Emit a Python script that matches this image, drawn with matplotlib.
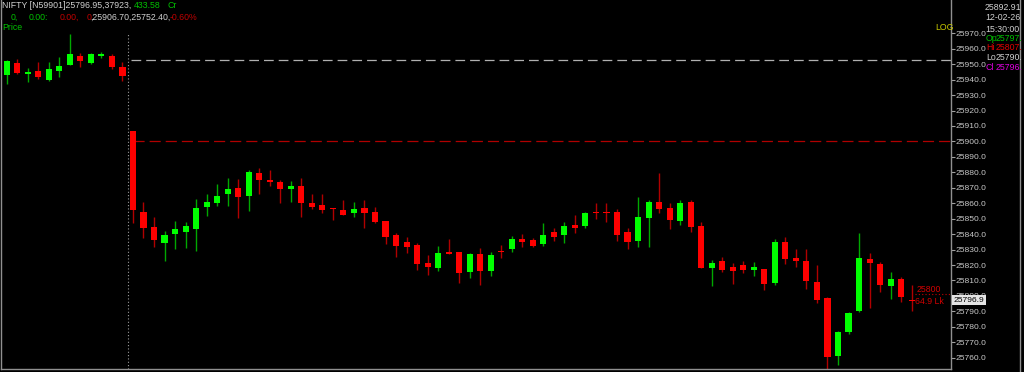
import matplotlib
matplotlib.use("Agg")
import matplotlib.pyplot as plt
import numpy as np

plt.rcParams['font.family'] = ['Liberation Sans', 'DejaVu Sans']
plt.rcParams['lines.scale_dashes'] = False

# ---- data: previous session (last 12 candles) + today's 75 five-minute candles ----
opens = [25943.0, 25951.0, 25943.7, 25945.8, 25939.8, 25945.8, 25949.5, 25955.3, 25951.0, 25955.1, 25955.3, 25948.0,
         25906.7, 25854.1, 25844.8, 25834.5, 25839.9, 25841.6, 25843.3, 25857.4, 25860.4, 25866.0, 25869.7, 25864.7,
         25879.4, 25875.1, 25874.0, 25869.2, 25871.2, 25860.0, 25858.9, 25857.1, 25855.6, 25853.5, 25857.1, 25854.5,
         25848.5, 25839.4, 25834.7, 25833.0, 25821.1, 25818.3, 25828.6, 25828.6, 25815.3, 25826.9, 25816.1, 25829.3,
         25830.2, 25836.7, 25836.2, 25833.6, 25841.6, 25839.4, 25845.9, 25845.5, 25854.1, 25854.5, 25854.1, 25841.6,
         25835.8, 25850.2, 25861.0, 25857.1, 25848.7, 25860.6, 25845.3, 25818.3, 25822.6, 25818.5, 25820.0, 25816.8,
         25817.3, 25808.6, 25834.7, 25824.4, 25822.6, 25809.2, 25798.5, 25761.1, 25776.9, 25790.3, 25823.9, 25820.5,
         25806.6, 25810.7, 25797.3]
highs = [25952.5, 25953.4, 25947.7, 25951.6, 25951.2, 25954.9, 25969.5, 25957.4, 25957.4, 25958.1, 25956.4, 25951.6,
         25906.7, 25861.0, 25850.9, 25842.0, 25848.5, 25847.7, 25862.8, 25866.0, 25872.5, 25876.1, 25875.5, 25881.5,
         25882.6, 25881.5, 25875.1, 25874.4, 25876.1, 25866.0, 25866.0, 25857.1, 25862.1, 25861.0, 25862.1, 25857.8,
         25848.5, 25840.9, 25838.0, 25834.1, 25826.5, 25832.3, 25836.7, 25828.6, 25828.0, 25830.8, 25828.6, 25833.0,
         25838.8, 25840.1, 25837.3, 25847.0, 25843.8, 25847.7, 25852.4, 25854.5, 25860.0, 25860.4, 25856.1, 25843.8,
         25863.8, 25862.1, 25879.4, 25860.0, 25862.1, 25862.1, 25847.7, 25823.3, 25825.0, 25821.5, 25822.8, 25822.2,
         25817.3, 25836.7, 25838.4, 25830.2, 25830.2, 25820.0, 25799.1, 25777.3, 25789.8, 25840.9, 25827.6, 25822.2,
         25815.3, 25812.0, 25807.0]
lows = [25937.2, 25943.5, 25938.3, 25940.2, 25939.3, 25941.9, 25949.5, 25948.4, 25950.0, 25953.8, 25946.7, 25939.3,
        25847.4, 25837.3, 25831.9, 25822.8, 25830.2, 25831.2, 25829.1, 25851.9, 25858.2, 25858.2, 25850.2, 25855.2,
        25865.8, 25871.4, 25860.0, 25861.0, 25851.3, 25856.1, 25853.5, 25849.2, 25852.4, 25851.3, 25843.8, 25847.0,
        25833.6, 25825.0, 25827.6, 25816.8, 25813.6, 25816.1, 25827.1, 25808.6, 25811.4, 25807.1, 25812.9, 25824.4,
        25828.6, 25831.9, 25831.5, 25832.3, 25835.8, 25834.5, 25840.5, 25843.8, 25849.6, 25848.0, 25835.8, 25830.4,
        25831.9, 25831.5, 25853.5, 25843.3, 25845.9, 25841.6, 25817.9, 25806.6, 25815.3, 25807.8, 25814.7, 25813.1,
        25803.9, 25807.1, 25820.7, 25819.0, 25804.5, 25795.2, 25752.4, 25755.3, 25775.4, 25789.8, 25792.0, 25802.8,
        25798.0, 25796.3, 25790.0]
closes = [25952.1, 25944.5, 25945.1, 25941.9, 25946.9, 25948.8, 25956.6, 25952.1, 25956.4, 25956.4, 25948.4, 25942.6,
          25855.6, 25843.8, 25836.2, 25839.4, 25843.1, 25845.3, 25857.1, 25860.6, 25864.9, 25869.2, 25864.2, 25880.4,
          25874.9, 25873.6, 25869.0, 25871.4, 25860.0, 25857.4, 25855.6, 25856.3, 25852.4, 25856.3, 25853.9, 25847.7,
          25838.3, 25832.3, 25831.9, 25820.5, 25818.9, 25827.6, 25827.1, 25815.0, 25826.9, 25816.1, 25826.5, 25828.6,
          25836.9, 25835.1, 25832.5, 25839.4, 25838.4, 25845.3, 25843.8, 25853.5, 25853.5, 25853.9, 25839.4, 25835.1,
          25851.3, 25860.6, 25856.1, 25849.2, 25860.0, 25844.4, 25818.3, 25821.1, 25816.8, 25816.3, 25816.8, 25818.5,
          25807.8, 25834.7, 25823.7, 25822.6, 25809.9, 25797.4, 25760.3, 25776.9, 25788.8, 25824.8, 25821.5, 25807.1,
          25810.9, 25799.5, 25796.95]
y_ticks = [25760 + 10 * k for k in range(22)]
session_break = 11.5
prev_ref_level = 25952.7
open_level = 25900.0
marker_level = 25801.0

# ---- figure ----
W, H = 1024, 372
fig = plt.figure(figsize=(W / 100, H / 100), dpi=100, facecolor='black')
ax = fig.add_axes([1 / W, (H - 369) / H, 950 / W, 369 / H], facecolor='black')

o = np.array(opens); h = np.array(highs); l = np.array(lows); c = np.array(closes)
x = np.arange(len(o))
up = c >= o
body_lo = np.minimum(o, c)
body_h = np.maximum(np.abs(c - o), 0.7)

ax.hlines(open_level, 12, 89.74, colors='#b00000', linewidth=0.9, linestyles=(0, (8, 3.6)), zorder=1)
ax.hlines(prev_ref_level, 11.8, 89.74, colors='#b0b0b0', linewidth=0.9, linestyles=(0, (7, 3.6)), zorder=1)
ax.axvline(session_break, ymin=0, ymax=(369 - 33) / 369, color='#a0a0a0', linewidth=0.8,
           linestyle=(0, (0.8, 1.6)), zorder=1)
ax.hlines(marker_level, 86.3, 89.74, colors='#c00000', linewidth=0.8, linestyles=(0, (0.8, 1.6)), zorder=1)

ax.vlines(x[up], l[up], h[up], colors='#00a800', linewidth=1.0, zorder=2)
ax.vlines(x[~up], l[~up], h[~up], colors='#b00000', linewidth=1.0, zorder=2)
ax.bar(x[up], body_h[up], bottom=body_lo[up], width=0.58, color='#00ff00', linewidth=0, zorder=3)
ax.bar(x[~up], body_h[~up], bottom=body_lo[~up], width=0.58, color='#ff0000', linewidth=0, zorder=3)

ax.set_xlim(-0.542, 89.74)
ax.set_ylim(25752.69, 25991.56)
ax.set_xticks([])
ax.yaxis.tick_right()
ax.set_yticks(y_ticks)
ax.set_yticklabels([f"{t:.1f}" for t in y_ticks])
ax.tick_params(axis='y', direction='out', length=3, width=0.8, color='#a0a0a0',
               labelcolor='#c8c8c8', labelsize=6.1, pad=0.3)
ax.spines['top'].set_visible(False)
for s in ['left', 'bottom', 'right']:
    ax.spines[s].set_color('#909090')
    ax.spines[s].set_linewidth(1.0)

# right panel border
fig.add_artist(plt.Line2D([1020 / W, 1020 / W], [0, 1], color='#909090', linewidth=1.0))

FS = 6.3


def t(px, py, s, color, fs=FS, **kw):
    return fig.text(px / W, 1 - py / H, s, color=color, fontsize=fs, va='center', ha='left', **kw)

grey = '#d0d0d0'
green = '#00c000'
red = '#c00000'
# header
t(2, 6, "NIFTY [N59901]25796.95,37923,", grey)
t(134, 6, "433.58", green)
t(167, 6, "Cr", green)
t(11, 17, "0,", green)
t(29, 17, "0.00:", green)
t(60, 17, "0.00,", red)
t(87, 17, "0", red)
t(90.5, 17, ",25906.70,25752.40,", grey)
t(170, 17, "-0.60%", red)
t(2, 28, "Price", green)
t(935, 27, "LOG", '#c8c800')

# right info panel
FS2 = 6.3
t(985, 7, "25892.91", grey, FS2)
t(985, 18, "12-02-26", grey, FS2)
t(985, 29, "15:30:00", grey, FS2)
t(986, 38.5, "Op", green, FS2); t(996, 38.5, "25797.", green, FS2)
t(986, 48, "Hi", '#e00000', FS2); t(996, 48, "25807.", '#e00000', FS2)
t(986, 57.5, "Lo", grey, FS2); t(996, 57.5, "25790.", grey, FS2)
t(986, 67, "Cl", '#e000e0', FS2); t(996, 67, "25796.", '#e000e0', FS2)

# marker labels
t(917, 290, "25800", '#d00000', FS2)
t(915, 302, "64.9 Lk", '#d00000', FS2)
fig.text(954 / W, 1 - 300 / H, "25796.9", color='black', fontsize=6.1, va='center', ha='left',
         bbox=dict(facecolor='#e4e4e4', edgecolor='none', pad=1.2), zorder=10)

fig.savefig("out.png", dpi=100, facecolor='black')
